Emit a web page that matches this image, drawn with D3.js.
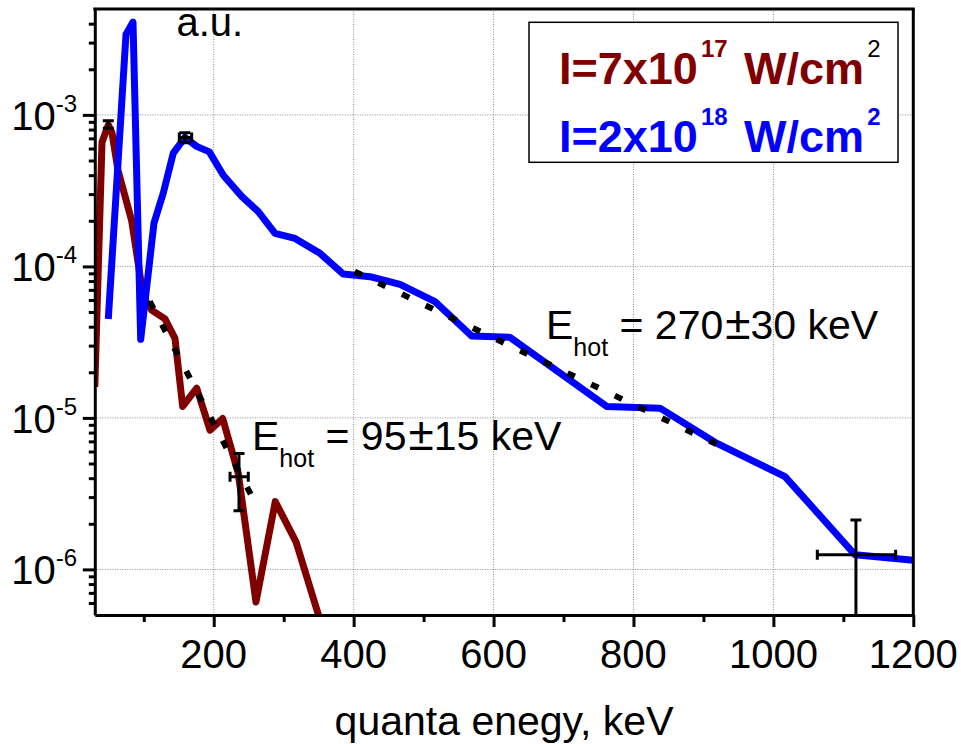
<!DOCTYPE html>
<html>
<head>
<meta charset="utf-8">
<script src="https://cdn.jsdelivr.net/npm/d3@7"></script>
<style>
  html, body { margin: 0; padding: 0; background: #fff; }
  svg { display: block; font-family: "Liberation Sans", Arial, sans-serif; }
</style>
</head>
<body>
<svg id="chart" width="961" height="744"></svg>
<script>
// Spectrum at I = 7x10^17 W/cm^2 (energy in keV, intensity in a.u.)
const energyLow = [30, 40.3, 49.3, 54.6, 63.2, 82.7, 99.3, 111.3, 130.3, 144.6, 155.6, 175.7, 194.7, 212.8, 235.1, 260.4, 288, 317.6, 360];
const fluxLow   = [1.6e-5, 6.6e-4, 8.6e-4, 7.6e-4, 4.3e-4, 2.0e-4, 6.3e-5, 5.15e-5, 4.5e-5, 3.35e-5, 1.19e-5, 1.57e-5, 8.3e-6, 9.9e-6, 4.3e-6, 6.1e-7, 2.8e-6, 1.52e-6, 3.5e-7];

// Spectrum at I = 2x10^18 W/cm^2
const energyHigh = [49.3, 74.6, 84.6, 95.6, 114.6, 127.9, 142.2, 158.9, 175.7, 193.7, 213.7, 240, 263.7, 287.6, 316.2, 351.9, 385.2, 423.4, 466.3, 516.3, 568.7, 623.5, 761.7, 837.9, 916.5, 1016.6, 1116.6, 1200];
const fluxHigh   = [4.5e-5, 3.4e-3, 4.1e-3, 3.3e-5, 1.93e-4, 3.05e-4, 5.6e-4, 7.1e-4, 6.2e-4, 5.7e-4, 4.0e-4, 2.9e-4, 2.3e-4, 1.65e-4, 1.53e-4, 1.22e-4, 8.9e-5, 8.55e-5, 7.6e-5, 5.85e-5, 3.47e-5, 3.4e-5, 1.19e-5, 1.16e-5, 6.9e-6, 4.1e-6, 1.25e-6, 1.15e-6];

// Exponential fits (straight on the log axis): end points
const fitLowEnergy  = [108.6, 253.6];
const fitLowFlux    = [5.87e-5, 3.09e-6];
const fitHighEnergy = [401.5, 918.4];
const fitHighFlux   = [9.24e-5, 6.72e-6];

// Error bars: energy, flux, energy range, flux range
const errEnergy    = [49.3, 158.9, 236.1, 1118];
const errFlux      = [8.6e-4, 7.1e-4, 4.09e-6, 1.25e-6];
const errEnergyMin = [49.3, 150.8, 223.3, 1062.8];
const errEnergyMax = [49.3, 168.5, 249.4, 1174.8];
const errFluxMin   = [8.17e-4, 6.56e-4, 2.44e-6, 3e-7];
const errFluxMax   = [9.16e-4, 7.63e-4, 5.83e-6, 2.12e-6];

// Axis ticks
const xTicks      = [200, 400, 600, 800, 1000, 1200];
const xMinorTicks = [100, 300, 500, 700, 900, 1100];
const xGrid       = [200, 400, 600, 800, 1000];
const yExponents  = [-6, -5, -4, -3];

const colorLow = "#800000";
const colorHigh = "#0000ff";

const svg = d3.select("#chart");
const plotLeft = 94.8, plotRight = 913.3, plotTop = 9, plotBottom = 615;

const x = d3.scaleLinear().domain([30, 1200]).range([plotLeft, plotRight]);
const y = d3.scaleLog().domain([5e-7, 5e-3]).range([plotBottom, plotTop]);

svg.append("defs").append("clipPath").attr("id", "plotClip")
  .append("rect").attr("x", plotLeft).attr("y", plotTop)
  .attr("width", plotRight - plotLeft).attr("height", plotBottom - plotTop);

// grid
const grid = svg.append("g").attr("stroke", "#8a8a8a").attr("stroke-width", 1)
  .attr("stroke-dasharray", "1,1.5");
grid.selectAll("line.gx").data(xGrid).join("line").attr("class", "gx")
  .attr("x1", d => x(d)).attr("x2", d => x(d)).attr("y1", plotTop).attr("y2", plotBottom);
grid.selectAll("line.gy").data(yExponents).join("line").attr("class", "gy")
  .attr("x1", plotLeft).attr("x2", plotRight)
  .attr("y1", d => y(Math.pow(10, d))).attr("y2", d => y(Math.pow(10, d)));

// spectra
const plot = svg.append("g").attr("clip-path", "url(#plotClip)");
const line = d3.line().x(d => x(d[0])).y(d => y(d[1]));

plot.append("path")
  .datum(d3.zip(energyLow, fluxLow))
  .attr("d", line).attr("fill", "none").attr("stroke", colorLow)
  .attr("stroke-width", 7).attr("stroke-linejoin", "round");

plot.append("path")
  .datum(d3.zip(energyHigh, fluxHigh))
  .attr("d", line).attr("fill", "none").attr("stroke", colorHigh)
  .attr("stroke-width", 7).attr("stroke-linejoin", "round");

// fits
[[fitLowEnergy, fitLowFlux], [fitHighEnergy, fitHighFlux]].forEach(([e, f]) => {
  plot.append("path")
    .datum(d3.zip(e, f))
    .attr("d", line).attr("fill", "none").attr("stroke", "#000")
    .attr("stroke-width", 6).attr("stroke-dasharray", "8,18.2");
});

// error bars
const cap = 11;
const eb = plot.append("g").attr("stroke", "#000").attr("stroke-width", 3).attr("fill", "none");
errEnergy.forEach((e, i) => {
  const cx = x(e), cy = y(errFlux[i]);
  const y0 = y(errFluxMin[i]), y1 = y(errFluxMax[i]);
  eb.append("line").attr("x1", cx).attr("x2", cx).attr("y1", y0).attr("y2", y1);
  eb.append("line").attr("x1", cx - cap / 2).attr("x2", cx + cap / 2).attr("y1", y0).attr("y2", y0);
  eb.append("line").attr("x1", cx - cap / 2).attr("x2", cx + cap / 2).attr("y1", y1).attr("y2", y1);
  if (errEnergyMax[i] > errEnergyMin[i]) {
    const x0 = x(errEnergyMin[i]), x1 = x(errEnergyMax[i]);
    eb.append("line").attr("x1", x0).attr("x2", x1).attr("y1", cy).attr("y2", cy);
    eb.append("line").attr("x1", x0).attr("x2", x0).attr("y1", cy - cap / 2 + 0.5).attr("y2", cy + cap / 2 - 0.5);
    eb.append("line").attr("x1", x1).attr("x2", x1).attr("y1", cy - cap / 2 + 0.5).attr("y2", cy + cap / 2 - 0.5);
  }
});

// axes
svg.append("g").attr("transform", `translate(0,${plotBottom})`)
  .call(d3.axisBottom(x).tickValues(xTicks).tickSize(12).tickSizeOuter(0).tickFormat(""));
svg.append("g").attr("transform", `translate(0,${plotBottom})`)
  .call(d3.axisBottom(x).tickValues(xMinorTicks).tickSize(7).tickSizeOuter(0).tickFormat(""))
  .call(g => g.select(".domain").remove());

const yMinor = [];
for (let p = -7; p <= -3; p++) for (let m = 2; m <= 9; m++) {
  const v = m * Math.pow(10, p);
  if (v > 5e-7 && v < 5e-3) yMinor.push(v);
}
svg.append("g").attr("transform", `translate(${plotLeft},0)`)
  .call(d3.axisLeft(y).tickValues(yExponents.map(e => Math.pow(10, e))).tickSize(12).tickSizeOuter(0).tickFormat(""));
svg.append("g").attr("transform", `translate(${plotLeft},0)`)
  .call(d3.axisLeft(y).tickValues(yMinor).tickSize(6).tickSizeOuter(0).tickFormat(""))
  .call(g => g.select(".domain").remove());

svg.selectAll(".domain").attr("stroke", "#000").attr("stroke-width", 3);
svg.selectAll(".tick line").attr("stroke", "#000").attr("stroke-width", 3);

// frame top and right
svg.append("line").attr("x1", plotLeft - 1.5).attr("x2", plotRight + 1.5).attr("y1", plotTop).attr("y2", plotTop)
  .attr("stroke", "#000").attr("stroke-width", 3);
svg.append("line").attr("x1", plotRight).attr("x2", plotRight).attr("y1", plotTop).attr("y2", plotBottom)
  .attr("stroke", "#000").attr("stroke-width", 3);

// tick labels
svg.append("g").selectAll("text").data(xTicks).join("text")
  .attr("x", d => x(d)).attr("y", 668).attr("text-anchor", "middle")
  .attr("font-size", 40).attr("fill", "#000").text(d => d);

const yLab = svg.append("g").selectAll("text").data(yExponents).join("text")
  .attr("x", 77).attr("y", d => y(Math.pow(10, d)) + 15)
  .attr("text-anchor", "end").attr("font-size", 40).attr("fill", "#000");
yLab.append("tspan").text("10");
yLab.append("tspan").attr("font-size", 24).attr("dy", -18).text(d => String(d));

// axis title
svg.append("text").attr("x", (plotLeft + plotRight) / 2).attr("y", 735).attr("text-anchor", "middle")
  .attr("font-size", 41).attr("fill", "#000").text("quanta enegy, keV");

svg.append("text").attr("x", 176.5).attr("y", 36).attr("font-size", 40).attr("fill", "#000").text("a.u.");

// legend
svg.append("rect").attr("x", 529).attr("y", 22.3).attr("width", 369).attr("height", 140)
  .attr("fill", "#fff").attr("stroke", "#000").attr("stroke-width", 1.5);

function legendLine(yBase, color, base, exp, supColor, supWeight) {
  const t = svg.append("text").attr("x", 559).attr("y", yBase)
    .attr("font-size", 45).attr("font-weight", "bold").attr("fill", color);
  t.append("tspan").text(base);
  t.append("tspan").attr("font-size", 24).attr("dx", 3).attr("dy", -27).text(exp);
  t.append("tspan").attr("dx", 4).attr("dy", 27).text(" W/cm");
  t.append("tspan").attr("font-size", 24).attr("dx", 3).attr("dy", -27)
    .attr("fill", supColor).attr("font-weight", supWeight).text("2");
}
legendLine(84, colorLow, "I=7x10", "17", "#000", "normal");
legendLine(151.7, colorHigh, "I=2x10", "18", colorHigh, "bold");

// fit annotations
function hotLabel(x0, yBase, value, error) {
  const t = svg.append("text").attr("x", x0).attr("y", yBase).attr("font-size", 41).attr("fill", "#000");
  t.append("tspan").text("E");
  t.append("tspan").attr("font-size", 25).attr("dy", 16.7).text("hot");
  t.append("tspan").attr("dy", -16.7).text(" = " + value);
  t.append("tspan").attr("font-size", 46).attr("dx", 2).text("±");
  t.append("tspan").text(error + " keV");
}
hotLabel(252, 450, "95", "15");
hotLabel(546, 339.3, "270", "30");
</script>
</body>
</html>
